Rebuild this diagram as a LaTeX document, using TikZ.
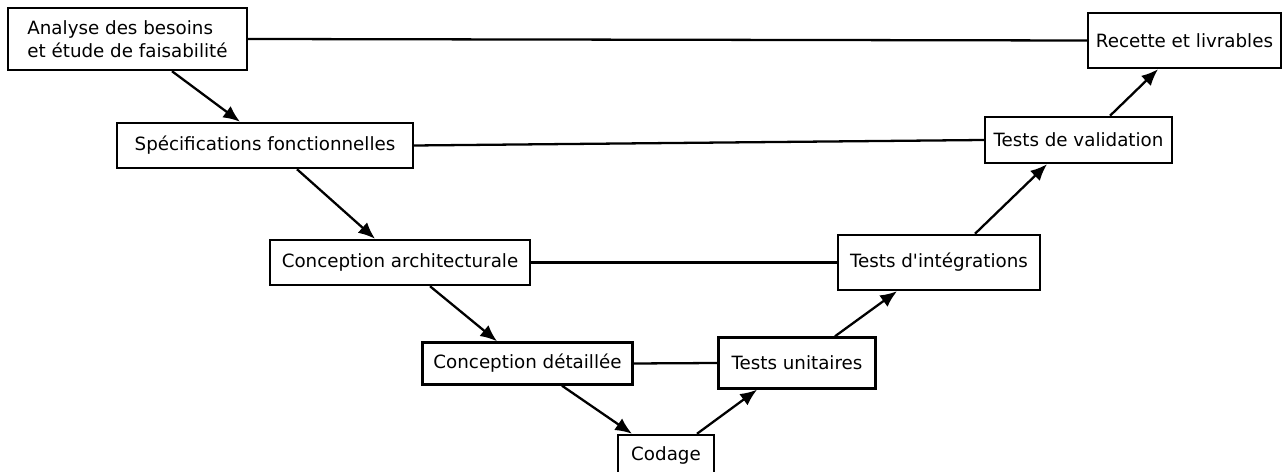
\documentclass[tikz,border=0pt]{standalone}
\usepackage{fontspec}
\setmainfont{DejaVu Sans}
\usepackage{tikz}
\usetikzlibrary{arrows,arrows.meta,positioning,shapes}

\begin{document}
\begin{tikzpicture}[
          etape/.style={draw,rectangle,line width=1.4pt,inner sep=0pt,align=center,font=\fontsize{10.4}{13}\selectfont},
          lien/.style={draw,line width=1.3pt},
          fleche/.style={lien,-{Latex[length=9.5pt,width=8pt]}}
        ]
        \useasboundingbox (0,0) rectangle (25.66,9.44);

        %descending branch
        \node[etape,minimum width=4.78cm,minimum height=1.24cm,align=left] (analyse) at (2.55,8.66) {Analyse des besoins\\et étude de faisabilité};
        \node[etape,minimum width=5.92cm,minimum height=0.90cm] (specs) at (5.30,6.53) {Spécifications fonctionnelles};
        \node[etape,minimum width=5.20cm,minimum height=0.90cm] (archi) at (8.00,4.19) {Conception architecturale};
        \node[etape,minimum width=4.20cm,minimum height=0.84cm] (detail) at (10.55,2.17) {Conception détaillée};
        \node[etape,minimum width=1.92cm,minimum height=0.80cm] (codage) at (13.32,0.34) {Codage};

        %ascending branch
        \node[etape,minimum width=3.14cm,minimum height=1.02cm] (unit) at (15.94,2.18) {Tests unitaires};
        \node[etape,minimum width=4.04cm,minimum height=1.10cm] (integ) at (18.78,4.19) {Tests d\textquotesingle intégrations};
        \node[etape,minimum width=3.74cm,minimum height=0.92cm] (valid) at (21.57,6.64) {Tests de validation};
        \node[etape,minimum width=3.86cm,minimum height=1.10cm] (recette) at (23.69,8.63) {Recette et livrables};

        %arrows
        \path
        ([xshift=0.89cm]analyse.south) edge[fleche] ([xshift=-0.50cm]specs.north)
        ([xshift=0.64cm]specs.south) edge[fleche] ([xshift=-0.50cm]archi.north)
        ([xshift=0.60cm]archi.south) edge[fleche] ([xshift=-0.61cm]detail.north)
        ([xshift=0.69cm]detail.south) edge[fleche] ([xshift=-0.68cm]codage.north)
        ([xshift=0.62cm]codage.north) edge[fleche] ([xshift=-0.80cm]unit.south)
        ([xshift=0.76cm]unit.north) edge[fleche] ([xshift=-0.84cm]integ.south)
        ([xshift=0.72cm]integ.north) edge[fleche] ([xshift=-0.63cm]valid.south)
        ([xshift=0.63cm]valid.north) edge[fleche] ([xshift=-0.53cm]recette.south)
        ;

        %horizontal links
        \path
        (analyse.east) edge[lien] (recette.west)
        (specs.east) edge[lien] (valid.west)
        (archi.east) edge[lien] (integ.west)
        (detail.east) edge[lien] (unit.west)
        ;
    \end{tikzpicture}
\end{document}
